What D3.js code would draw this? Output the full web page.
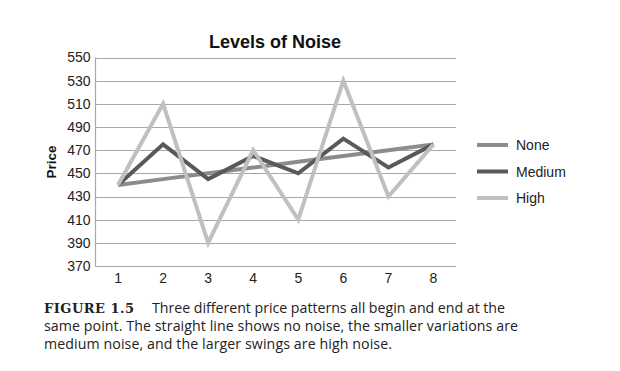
<!DOCTYPE html>
<html><head><meta charset="utf-8">
<script src="https://cdn.jsdelivr.net/npm/d3@7"></script>
<style>body{margin:0;background:#fff}</style>
</head><body>
<svg id="c" width="620" height="371"></svg>
<script>
const categories = ["1","2","3","4","5","6","7","8"];
const noneValues = [440,445,450,455,460,465,470,475];
const mediumValues = [440,475,445,465,450,480,455,475];
const highValues = [440,510,390,470,410,530,430,475];
const yTicks = [370,390,410,430,450,470,490,510,530,550];
const seriesNames = ["None","Medium","High"];
const seriesColors = ["#8c8c8c","#595959","#c0c0c0"];

const series = [
  {name: seriesNames[0], values: noneValues, color: seriesColors[0]},
  {name: seriesNames[1], values: mediumValues, color: seriesColors[1]},
  {name: seriesNames[2], values: highValues, color: seriesColors[2]}
];

const svg = d3.select("#c");
const L = 95.5, R = 456, T = 57.5, B = 266;
const x = d3.scaleBand().domain(categories).range([L, R]);
const y = d3.scaleLinear().domain([370,550]).range([B, T]);
const font = "'Liberation Sans', Arial, sans-serif";

// gridlines
svg.append("g").selectAll("line").data(yTicks).join("line")
  .attr("x1", L).attr("x2", R)
  .attr("y1", d => Math.round(y(d)) + 0.5).attr("y2", d => Math.round(y(d)) + 0.5)
  .attr("stroke", "#a8a8a8").attr("stroke-width", 1.2);
svg.append("line").attr("x1", L).attr("x2", L).attr("y1", T).attr("y2", B+0.5)
  .attr("stroke", "#a8a8a8").attr("stroke-width", 1.2);

const yAxis = d3.axisLeft(y).tickValues(yTicks).tickSize(0).tickPadding(5);
const gy = svg.append("g").attr("transform", `translate(${L},0)`).call(yAxis);
gy.select(".domain").remove();
gy.selectAll("text").attr("font-family", font).attr("font-size", 14).attr("fill", "#222");

const xAxis = d3.axisBottom(x).tickSize(0).tickPadding(7);
const gx = svg.append("g").attr("transform", `translate(0,${B})`).call(xAxis);
gx.select(".domain").remove();
gx.selectAll("text").attr("font-family", font).attr("font-size", 14).attr("fill", "#222");

const line = d3.line().x((d,i) => x(categories[i]) + x.bandwidth()/2).y(d => y(d));
svg.append("g").selectAll("path").data(series).join("path")
  .attr("d", d => line(d.values))
  .attr("fill", "none").attr("stroke", d => d.color)
  .attr("stroke-width", 4).attr("stroke-linejoin", "miter");

svg.append("text").attr("x", 275).attr("y", 48).attr("text-anchor", "middle")
  .attr("font-family", font).attr("font-weight", "bold").attr("font-size", 18).attr("fill", "#111")
  .text("Levels of Noise");
svg.append("text").attr("transform", "translate(56,162) rotate(-90)").attr("text-anchor", "middle")
  .attr("font-family", font).attr("font-weight", "bold").attr("font-size", 13.5).attr("fill", "#111")
  .text("Price");

const lg = svg.append("g").selectAll("g").data(series).join("g")
  .attr("transform", (d,i) => `translate(477,${145 + i*26.5})`);
lg.append("line").attr("x1", 0).attr("x2", 31).attr("y1", 0).attr("y2", 0)
  .attr("stroke", d => d.color).attr("stroke-width", 4);
lg.append("text").attr("x", 39).attr("y", 5).attr("font-family", font).attr("font-size", 14).attr("fill", "#222")
  .text(d => d.name);

// caption
const capFont = "'Open Sans', 'Noto Sans', sans-serif";
svg.append("text").attr("x", 44).attr("y", 313)
  .attr("font-family", "'DejaVu Serif', 'Liberation Serif', serif").attr("font-weight", "bold")
  .attr("font-size", 13).attr("fill", "#222")
  .attr("textLength", 90).attr("lengthAdjust", "spacing")
  .text("FIGURE 1.5");
const capLines = [
  {x: 152, y: 313, w: 353, t: "Three different price patterns all begin and end at the"},
  {x: 44, y: 331, w: 474, t: "same point. The straight line shows no noise, the smaller variations are"},
  {x: 44, y: 349, w: 348, t: "medium noise, and the larger swings are high noise."}
];
svg.append("g").selectAll("text").data(capLines).join("text")
  .attr("x", d => d.x).attr("y", d => d.y)
  .attr("font-family", capFont).attr("font-size", 14.2).attr("fill", "#222")
  .attr("textLength", d => d.w).attr("lengthAdjust", "spacing")
  .text(d => d.t);
</script>
</body></html>
